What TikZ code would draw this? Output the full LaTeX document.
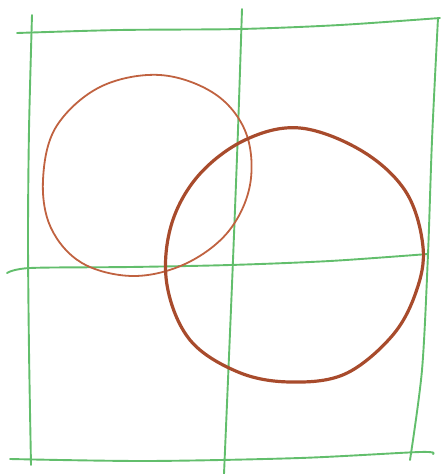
\documentclass[tikz,border=0pt]{standalone}
\begin{document}
\begin{tikzpicture}[x=1pt,y=-1pt,
  gridline/.style={draw=gridgreen,line width=1.9pt,line cap=round,line join=round},
  thincircle/.style={draw=lightbrown,line width=1.8pt,line cap=round},
  thickcircle/.style={draw=darkbrown,line width=3.2pt,line cap=round}]
\definecolor{gridgreen}{RGB}{98,190,108}
\definecolor{lightbrown}{RGB}{192,98,64}
\definecolor{darkbrown}{RGB}{168,75,44}
\useasboundingbox (0,0) rectangle (440,474);
% grid
\draw[gridline] plot[smooth] coordinates {(17,33) (120,30) (240,29) (340,25) (440,18)};
\draw[gridline] plot[smooth] coordinates {(32,15) (29,130) (28,237) (29,350) (31,465)};
\draw[gridline] plot[smooth] coordinates {(242,9) (238,130) (233,260) (228,380) (224,474)};
\draw[gridline] plot[smooth] coordinates {(438,18) (432,140) (428,254) (422,370) (410,460)};
\draw[gridline] plot[smooth] coordinates {(7,273) (30,268) (130,267) (230,265) (330,261) (428,254)};
\draw[gridline] plot[smooth] coordinates {(10,459) (147,461) (300,458) (420,452) (433,454)};
% left circle
\draw[thincircle] plot[smooth cycle,tension=0.6] coordinates {(160,75) (215,94) (246,133) (250,185) (228,232) (185,264) (133,276) (82,263) (51,228) (43,180) (56,127) (100,87)};
% right circle
\draw[thickcircle] plot[smooth cycle,tension=0.6] coordinates {(300,128) (245,140) (198,176) (171,226) (167,285) (190,340) (238,372) (290,382) (345,374) (392,336) (416,292) (423,247) (406,192) (362,151)};
\end{tikzpicture}
\end{document}
